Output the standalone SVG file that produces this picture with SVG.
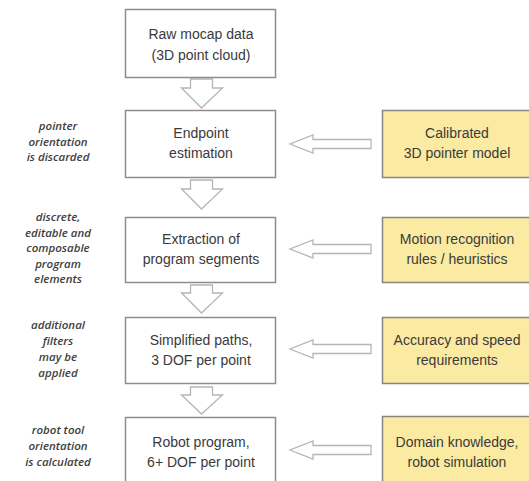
<svg xmlns="http://www.w3.org/2000/svg" width="529" height="481" viewBox="0 0 529 481">
<style>
.box{fill:#ffffff;stroke:#948a8a;stroke-width:1.5}
.ybox{fill:#fbeaa2;stroke:#8a8480;stroke-width:1.5}
.arr{fill:#ffffff;stroke:#b8b4b4;stroke-width:1.3;stroke-linejoin:miter}
.t{font-family:"Liberation Sans",Arial,sans-serif;font-size:14px;fill:#3a3a3a;text-anchor:middle}
.note{font-family:"Open Sans","Liberation Sans",sans-serif;font-size:11.5px;font-style:italic;font-weight:600;fill:#404040;text-anchor:middle}
</style>
<rect width="529" height="481" fill="#ffffff"/>
<g id="connectors">
<path class="arr" d="M190.5,79 H212.5 V88 H222.5 L201.5,108 L181.5,88 H190.5 Z"/>
<path class="arr" d="M190.5,180 H212.5 V189 H222.5 L201.5,209 L181.5,189 H190.5 Z"/>
<path class="arr" d="M190.5,285 H212.5 V293 H222.5 L201.5,313 L181.5,293 H190.5 Z"/>
<path class="arr" d="M190.5,387 H212.5 V395 H222.5 L201.5,414 L181.5,395 H190.5 Z"/>
<path class="arr" d="M371,139.5 V148.5 H313 V153 L290,144 L313,135 V139.5 Z"/>
<path class="arr" d="M371,244.5 V253.5 H313 V258 L290,249 L313,240 V244.5 Z"/>
<path class="arr" d="M371,344.5 V353.5 H313 V358 L290,349 L313,340 V344.5 Z"/>
<path class="arr" d="M371,445.5 V454.5 H313 V459 L290,450 L313,441 V445.5 Z"/>
</g>
<g id="n1"><rect class="box" x="125.5" y="9.5" width="150" height="68"/>
<text class="t" x="201" y="39">Raw mocap data</text><text class="t" x="201" y="60">(3D point cloud)</text></g>
<g id="n2"><rect class="box" x="125.5" y="110.5" width="150" height="67"/>
<text class="t" x="201" y="138">Endpoint</text><text class="t" x="201" y="158">estimation</text></g>
<g id="n3"><rect class="box" x="125.5" y="217.5" width="150" height="65"/>
<text class="t" x="201" y="244">Extraction of</text><text class="t" x="201" y="264">program segments</text></g>
<g id="n4"><rect class="box" x="125.5" y="317.5" width="150" height="66"/>
<text class="t" x="201" y="345">Simplified paths,</text><text class="t" x="201" y="365">3 DOF per point</text></g>
<g id="n5"><rect class="box" x="125.5" y="417.5" width="150" height="70"/>
<text class="t" x="201" y="447">Robot program,</text><text class="t" x="201" y="467">6+ DOF per point</text></g>
<g id="r1"><rect class="ybox" x="382.5" y="110.5" width="150" height="67"/>
<text class="t" x="457" y="138">Calibrated</text><text class="t" x="457" y="158">3D pointer model</text></g>
<g id="r2"><rect class="ybox" x="382.5" y="217.5" width="150" height="65"/>
<text class="t" x="457" y="244">Motion recognition</text><text class="t" x="457" y="264">rules / heuristics</text></g>
<g id="r3"><rect class="ybox" x="382.5" y="317.5" width="150" height="66"/>
<text class="t" x="457" y="345">Accuracy and speed</text><text class="t" x="457" y="365">requirements</text></g>
<g id="r4"><rect class="ybox" x="382.5" y="416.5" width="150" height="70"/>
<text class="t" x="457" y="447">Domain knowledge,</text><text class="t" x="457" y="467">robot simulation</text></g>
<g id="notes">
<text class="note" x="58" y="130">pointer</text>
<text class="note" x="58" y="145.5">orientation</text>
<text class="note" x="58" y="161">is discarded</text>
<text class="note" x="58" y="221">discrete,</text>
<text class="note" x="58" y="236.5">editable and</text>
<text class="note" x="58" y="252">composable</text>
<text class="note" x="58" y="267.5">program</text>
<text class="note" x="58" y="283">elements</text>
<text class="note" x="58" y="329">additional</text>
<text class="note" x="58" y="345">filters</text>
<text class="note" x="58" y="361">may be</text>
<text class="note" x="58" y="377">applied</text>
<text class="note" x="58" y="434">robot tool</text>
<text class="note" x="58" y="450">orientation</text>
<text class="note" x="58" y="466">is calculated</text>
</g>
</svg>
